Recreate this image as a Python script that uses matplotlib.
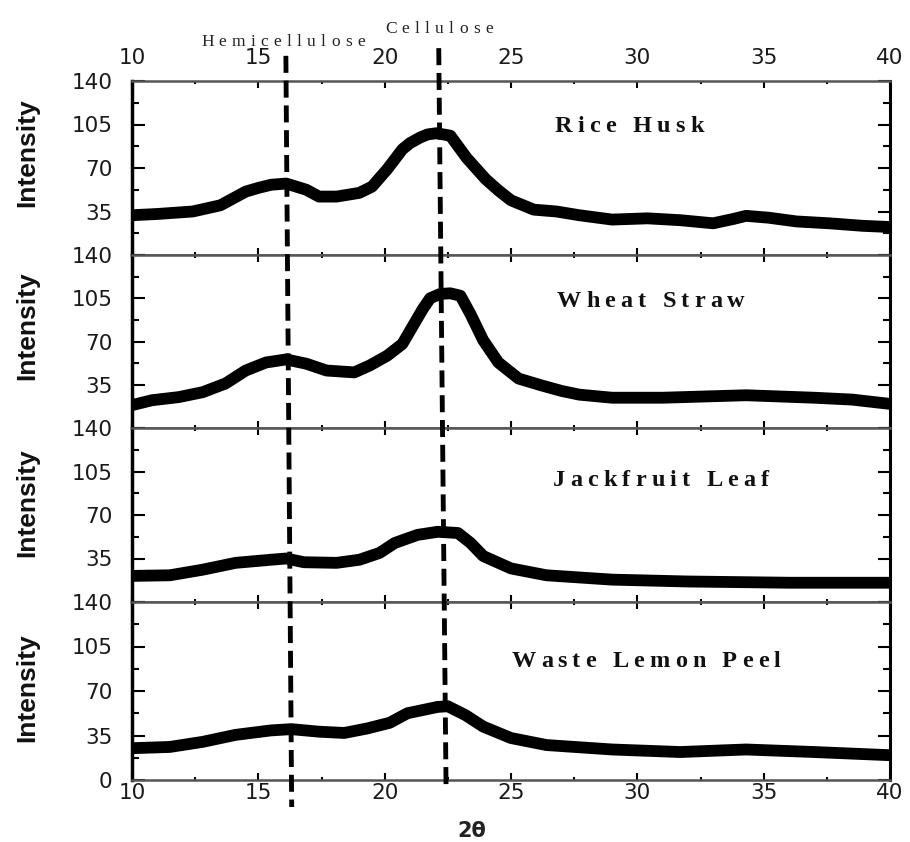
import numpy as np
import matplotlib
matplotlib.use('Agg')
import matplotlib.pyplot as plt
from matplotlib.ticker import MultipleLocator
from matplotlib.textpath import TextToPath
from matplotlib.font_manager import FontProperties

# XRD patterns (2theta in degrees, intensity a.u.)
samples = ['Rice Husk', 'Wheat Straw', 'Jackfruit Leaf', 'Waste Lemon Peel']

rice_theta = [10.0, 11.0, 12.4, 13.5, 14.5, 15.0, 15.5, 16.1, 16.9, 17.4, 18.1, 19.0, 19.5,
              20.1, 20.7, 21.0, 21.4, 21.7, 22.05, 22.6, 23.25, 24.0, 24.5, 25.0, 25.9, 26.8,
              27.7, 29.0, 30.4, 31.7, 33.0, 33.8, 34.3, 35.2, 36.3, 37.6, 38.9, 40.0]
rice_int = [32, 33, 35, 40, 51, 54, 56.5, 57.5, 52.5, 47, 47, 50, 55,
            69, 85, 90, 94.5, 97, 98, 96, 78, 61, 52, 44, 36.5, 35,
            32, 28.5, 29.5, 28, 25.5, 29, 31.5, 30, 27, 25.5, 23.5, 22.5]

wheat_theta = [10.0, 10.8, 11.85, 12.8, 13.7, 14.5, 15.3, 16.1, 16.9, 17.7, 18.8, 19.4,
               20.1, 20.7, 21.1, 21.5, 21.8, 22.2, 22.6, 23.0, 23.4, 23.9, 24.5, 25.3, 26.2,
               27.0, 27.7, 29.0, 31.0, 34.3, 37.0, 38.5, 40.0]
wheat_int = [18.5, 22.5, 25, 29, 36, 46.5, 53, 55.5, 52, 46.5, 45, 50.5,
             58.5, 68, 82, 96, 105, 108.5, 109, 107, 92, 71, 53, 40, 34.5,
             30, 27, 24.5, 24.5, 26.5, 24.5, 23, 19.5]

jack_theta = [10.0, 11.5, 12.8, 14.1, 15.5, 16.1, 16.8, 18.1, 19.0, 19.8, 20.4, 21.3,
              22.1, 22.9, 23.4, 23.9, 25.0, 26.4, 29.0, 32.0, 36.0, 40.0]
jack_int = [21, 21.5, 26, 31.5, 34, 35, 32, 31.5, 34, 39.5, 47.5, 54,
            56.5, 55.5, 47.5, 37, 27, 21.5, 18, 16.5, 15.5, 15.5]

lemon_theta = [10.0, 11.5, 12.8, 14.1, 15.5, 16.3, 17.4, 18.4, 19.3, 20.2, 20.9, 21.5,
               22.1, 22.5, 23.2, 23.9, 25.0, 26.4, 29.0, 31.7, 34.3, 37.0, 40.0]
lemon_int = [25, 26, 30, 35.5, 39, 40, 38, 37, 40.5, 45, 52.5, 55,
             57.5, 58, 51, 42, 33, 27.5, 24, 22, 24, 22, 19.5]

series = [(rice_theta, rice_int), (wheat_theta, wheat_int),
          (jack_theta, jack_int), (lemon_theta, lemon_int)]

x_ticks = [10, 15, 20, 25, 30, 35, 40]
y_ticks = [0, 35, 70, 105, 140]

# peak markers (top, bottom) - the original lines lean slightly
hemi_peak = [16.09, 16.32]
cell_peak = [22.14, 22.43]

ttp = TextToPath()


def spaced_text(ax, x, y, s, prop, track, **kw):
    # letter-spaced text, drawn one glyph at a time
    ref = ttp.get_text_width_height_descent('I', prop, ismath=False)[0]
    for i, ch in enumerate(s):
        if ch == ' ':
            continue
        w = 0
        if i:
            w = ttp.get_text_width_height_descent(s[:i] + 'I', prop, ismath=False)[0] - ref
        ax.annotate(ch, (x, y), xytext=(w + i * track, 0), textcoords='offset points',
                    fontproperties=prop, ha='left', va='baseline',
                    annotation_clip=False, **kw)


W, H = 910, 842
edges = [81, 255, 428, 602, 780]
left, right = 132, 890

fig = plt.figure(figsize=(W / 100, H / 100), dpi=100)

title_prop = FontProperties(family='Liberation Serif', weight='bold', size=17.5)
note_prop = FontProperties(family='Liberation Serif', size=12.5)
ylab_prop = FontProperties(family='Liberation Sans', weight='bold', size=19)

title_pos = [(26.74, 99), (26.8, 97.7), (26.66, 93.7), (25.03, 88.6)]
ylab_pos = [0.59, 0.59, 0.57, 0.52]

for i in range(4):
    top, bot = edges[i], edges[i + 1]
    ax = fig.add_axes([left / W, (H - bot) / H, (right - left) / W, (bot - top) / H])
    th, inten = series[i]
    ax.plot(th, inten, color='black', lw=8.5, solid_joinstyle='round',
            solid_capstyle='butt')
    ax.set_xlim(10, 40)
    ax.set_ylim(0, 140)
    ax.set_xticks(x_ticks)
    ax.xaxis.set_minor_locator(MultipleLocator(2.5))
    ax.set_yticks(y_ticks)
    ax.yaxis.set_minor_locator(MultipleLocator(17.5))
    ylabels = [str(v) for v in y_ticks]
    if i < 3:
        ylabels[0] = ''
    ax.set_yticklabels(ylabels)
    ax.tick_params(which='both', direction='in', top=True, bottom=True,
                   left=True, right=True, width=1.5, colors='black')
    ax.tick_params(axis='x', which='major', length=5)
    ax.tick_params(axis='x', which='minor', length=2.5)
    ax.tick_params(axis='y', which='major', length=9, pad=14)
    ax.tick_params(axis='y', which='minor', length=5)
    ax.tick_params(axis='x', labelbottom=(i == 3), labeltop=(i == 0),
                   pad=(9 if i == 0 else 2))
    for lab in ax.get_xticklabels() + ax.get_yticklabels():
        lab.set_fontfamily('DejaVu Sans')
        lab.set_fontsize(15.5)
        lab.set_color('#1a1a1a')
    for side in ['top', 'bottom']:
        ax.spines[side].set_color('#555555')
        ax.spines[side].set_linewidth(1.8)
    ax.spines['left'].set_linewidth(2.5)
    ax.spines['right'].set_linewidth(2.2)

    spaced_text(ax, title_pos[i][0], title_pos[i][1], samples[i], title_prop, 3.7,
                color='#111111')
    ax.text(-0.1385, ylab_pos[i], 'Intensity', transform=ax.transAxes, rotation=90,
            ha='center', va='center', fontproperties=ylab_prop, color='#111111')

# overlay for the dashed peak lines spanning all panels
ov = fig.add_axes([left / W, (H - 780) / H, (right - left) / W, (780 - 81) / H])
ov.set_xlim(10, 40)
ov.set_ylim(0, 1)
ov.axis('off')
ov.patch.set_alpha(0)
ov.plot(hemi_peak, [1.036, -0.0386], color='black', lw=3.5, ls=(0, (3.5, 1.6)),
        dash_capstyle='butt', clip_on=False)
ov.plot(cell_peak, [1.047, -0.0114], color='black', lw=3.5, ls=(0, (3.5, 1.6)),
        dash_capstyle='butt', clip_on=False)
spaced_text(ov, 12.73, 1.050, 'Hemicellulose', note_prop, 3.8, color='#222222')
spaced_text(ov, 20.01, 1.0687, 'Cellulose', note_prop, 3.8, color='#222222')

fig.text(472 / W, 1 - 831 / H, '2θ', ha='center', va='center', fontsize=15,
         fontweight='bold', family='DejaVu Sans', color='#222222')

fig.savefig('out.png', dpi=100)
